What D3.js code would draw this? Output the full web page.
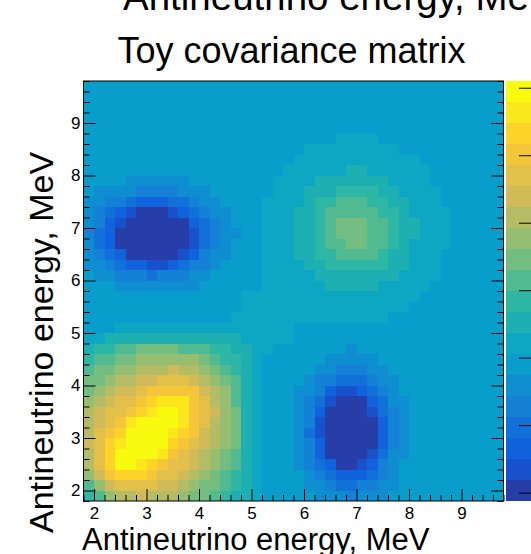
<!DOCTYPE html>
<html>
<head>
<meta charset="utf-8">
<script src="https://cdn.jsdelivr.net/npm/d3@7"></script>
<style>
  body { margin: 0; background: #fff; }
  svg { display: block; font-family: 'Liberation Sans', Arial, sans-serif; }
</style>
</head>
<body>
<script>
// Axis range (MeV) and binning of the toy matrix.
const energyRange = [1.8, 9.8];
const nBins = 40;
const majorTicks = [2, 3, 4, 5, 6, 7, 8, 9];

// Colour axis range and its ticks.
const zRange = [-1.062, 2.05];
const zTicks = [-1, -0.5, 0, 0.5, 1, 1.5, 2];
const nContours = 20;

// Contour level of every bin (0..19 -> '0'..'9','a'..'j').
// First string is the top row (9.6-9.8 MeV), last is the bottom row (1.8-2.0 MeV).
// Spaces only group the 40 columns by ten.
const levelRows = [
  '6666666666 6666666666 6666666666 6666666666',
  '6666666666 6666666666 6666666666 6666666666',
  '6666666666 6666666666 6666666666 6666666666',
  '6666666666 6666666666 6666666666 6666666666',
  '6666666666 6666666666 6666666666 6666666666',
  '6666666666 6666666666 6666777766 6666666666',
  '6666666666 6666666666 6777777777 6666666666',
  '6666666666 6666666666 7777777777 7766666666',
  '6666666666 6666666667 7777788777 7776666666',
  '6666555555 6666666677 7788888887 7776666666',
  '6555544445 5566666677 7888999988 7777666666',
  '5544322233 4556666777 7899aaa998 8777666666',
  '5432100012 3455666777 889aaaaa99 8777766666',
  '5421000000 2345666777 889abbbaa9 8877766666',
  '4320000000 1345566777 889abbbaa9 8877766666',
  '5320000000 1345666777 889aabbaa9 8777766666',
  '5432000001 2455666777 8899aaaa98 8777666666',
  '5543221123 4456666777 7889999998 8777666666',
  '6554443444 5566666777 7788888888 7777666666',
  '6665555555 5666666777 7778888877 7776666666',
  '6666666666 6666677777 7777777777 7766666666',
  '6666666666 6666677777 7777777777 7666666666',
  '6666666666 6666777777 7777777776 6666666666',
  '6667777777 7777777777 6666666666 6666666666',
  '7788888888 8888877777 6666666666 6666666666',
  '899aabbbba aa99887766 6666656666 6666666666',
  '9aabbccccc cba9987666 6665555566 6666666666',
  'abbccddded dcba987666 6655444556 6666666666',
  'bbcddeefff edcba87666 6544333455 6666666666',
  'bcdeefgggg gedca87666 5542112345 6666666666',
  'cdeffghiii gfdca87666 5431000235 5666666666',
  'deffghijji gfecb87666 5420000134 5666666666',
  'defgijjjji gfdcb87666 5410000024 5666666666',
  'dfghjjjjih gedcb87666 5310000024 5666666666',
  'efhijjjjhg fedcb87666 5420000024 5666666666',
  'dfhjjjjigf edcba87666 5420000135 5666666666',
  'dfhjjihgff edcba87666 5432001245 6666666666',
  'ceghhhgffe dcba987666 6543222345 6666666666',
  'aceffffeed cbba987666 6554334455 6666666666',
  '9acddedddc bba9887666 6655545556 6666666666'
];

// ROOT "bird" palette stops.
const birdStops = [0.0, 0.125, 0.25, 0.375, 0.5, 0.625, 0.75, 0.875, 1.0];
const birdRed = [0.2082, 0.0592, 0.0780, 0.0232, 0.1802, 0.5301, 0.8186, 0.9956, 0.9764];
const birdGreen = [0.1664, 0.3599, 0.5041, 0.6419, 0.7178, 0.7492, 0.7328, 0.7862, 0.9832];
const birdBlue = [0.5293, 0.8684, 0.8385, 0.7914, 0.6425, 0.4662, 0.3499, 0.1968, 0.0539];

const width = 531,
  height = 554;
const margin = { top: 81, left: 83.5 },
  size = 420;

const svg = d3
  .select('body')
  .append('svg')
  .attr('width', width)
  .attr('height', height);

const x = d3
  .scaleLinear()
  .domain(energyRange)
  .range([margin.left, margin.left + size]);
const y = d3
  .scaleLinear()
  .domain(energyRange)
  .range([margin.top + size, margin.top]);
const zScale = d3
  .scaleLinear()
  .domain(zRange)
  .range([margin.top + size, margin.top]);

// Palette: 255 gradient colours, one picked per contour like THistPainter does.
const bird = d3
  .scaleLinear()
  .domain(birdStops)
  .range(birdStops.map((s, k) => d3.rgb(birdRed[k] * 255, birdGreen[k] * 255, birdBlue[k] * 255)))
  .interpolate(d3.interpolateRgb);
const contourColors = d3
  .range(nContours)
  .map(k => bird(Math.floor(((k + 0.99) * 255) / nContours) / 254));
const color = d3.scaleQuantize().domain(zRange).range(contourColors);

const dz = (zRange[1] - zRange[0]) / nContours;
const edges = d3.range(nBins + 1).map(k => energyRange[0] + (k * (energyRange[1] - energyRange[0])) / nBins);

const cells = [];
levelRows.forEach((row, r) => {
  const j = nBins - 1 - r;
  row
    .replace(/ /g, '')
    .split('')
    .forEach((ch, i) => {
      const lvl = parseInt(ch, 36);
      cells.push({ i, j, z: zRange[0] + (lvl + 0.5) * dz });
    });
});

// Bins
svg
  .append('g')
  .attr('shape-rendering', 'crispEdges')
  .selectAll('rect')
  .data(cells)
  .join('rect')
  .attr('x', d => x(edges[d.i]))
  .attr('y', d => y(edges[d.j + 1]))
  .attr('width', d => x(edges[d.i + 1]) - x(edges[d.i]))
  .attr('height', d => y(edges[d.j]) - y(edges[d.j + 1]))
  .attr('fill', d => color(d.z));

// Ticks
const minorTicks = edges.filter(v => Math.abs(v - Math.round(v)) > 1e-6);

function styleAxis(g) {
  g.select('.domain').remove();
  g.selectAll('line').attr('stroke', '#000');
  g.selectAll('text')
    .attr('fill', '#000')
    .attr('font-size', 17)
    .attr('font-family', "'Liberation Sans', Arial, sans-serif");
}

const bottom = svg.append('g').attr('transform', `translate(0,${margin.top + size})`);
bottom.append('g').call(d3.axisBottom(x).tickValues(majorTicks).tickSize(-12).tickPadding(6).tickFormat(d3.format('d'))).call(styleAxis);
bottom.append('g').call(d3.axisBottom(x).tickValues(minorTicks).tickSize(-6).tickFormat('')).call(styleAxis);

const left = svg.append('g').attr('transform', `translate(${margin.left},0)`);
left.append('g').call(d3.axisLeft(y).tickValues(majorTicks).tickSize(-12).tickPadding(3).tickFormat(d3.format('d'))).call(styleAxis);
left.append('g').call(d3.axisLeft(y).tickValues(minorTicks).tickSize(-6).tickFormat('')).call(styleAxis);

const right = svg.append('g').attr('transform', `translate(${margin.left + size},0)`);
right.append('g').call(d3.axisRight(y).tickValues(majorTicks).tickSize(-12).tickFormat('')).call(styleAxis);
right.append('g').call(d3.axisRight(y).tickValues(minorTicks).tickSize(-6).tickFormat('')).call(styleAxis);

// Frame
svg
  .append('rect')
  .attr('x', margin.left)
  .attr('y', margin.top)
  .attr('width', size)
  .attr('height', size)
  .attr('fill', 'none')
  .attr('stroke', '#000');

// Colour palette
const palX = 506;
svg
  .append('g')
  .attr('shape-rendering', 'crispEdges')
  .selectAll('rect')
  .data(d3.range(nContours))
  .join('rect')
  .attr('x', palX)
  .attr('width', 30)
  .attr('y', k => zScale(zRange[0] + (k + 1) * dz))
  .attr('height', k => zScale(zRange[0] + k * dz) - zScale(zRange[0] + (k + 1) * dz))
  .attr('fill', k => contourColors[k]);

svg
  .append('g')
  .attr('transform', 'translate(532,0)')
  .call(d3.axisRight(zScale).tickValues(zTicks).tickSize(-13).tickFormat(''))
  .call(styleAxis);

// Titles
svg
  .append('text')
  .attr('x', 291.5)
  .attr('y', 63)
  .attr('text-anchor', 'middle')
  .attr('font-size', 36)
  .text('Toy covariance matrix');

svg
  .append('text')
  .attr('x', 123)
  .attr('y', 9.5)
  .attr('font-size', 38.5)
  .text('Antineutrino energy, MeV');

svg
  .append('text')
  .attr('x', 82)
  .attr('y', 550)
  .attr('font-size', 31)
  .text('Antineutrino energy, MeV');

svg
  .append('text')
  .attr('transform', 'translate(53,533) rotate(-90)')
  .attr('font-size', 34)
  .text('Antineutrino energy, MeV');
</script>
</body>
</html>
